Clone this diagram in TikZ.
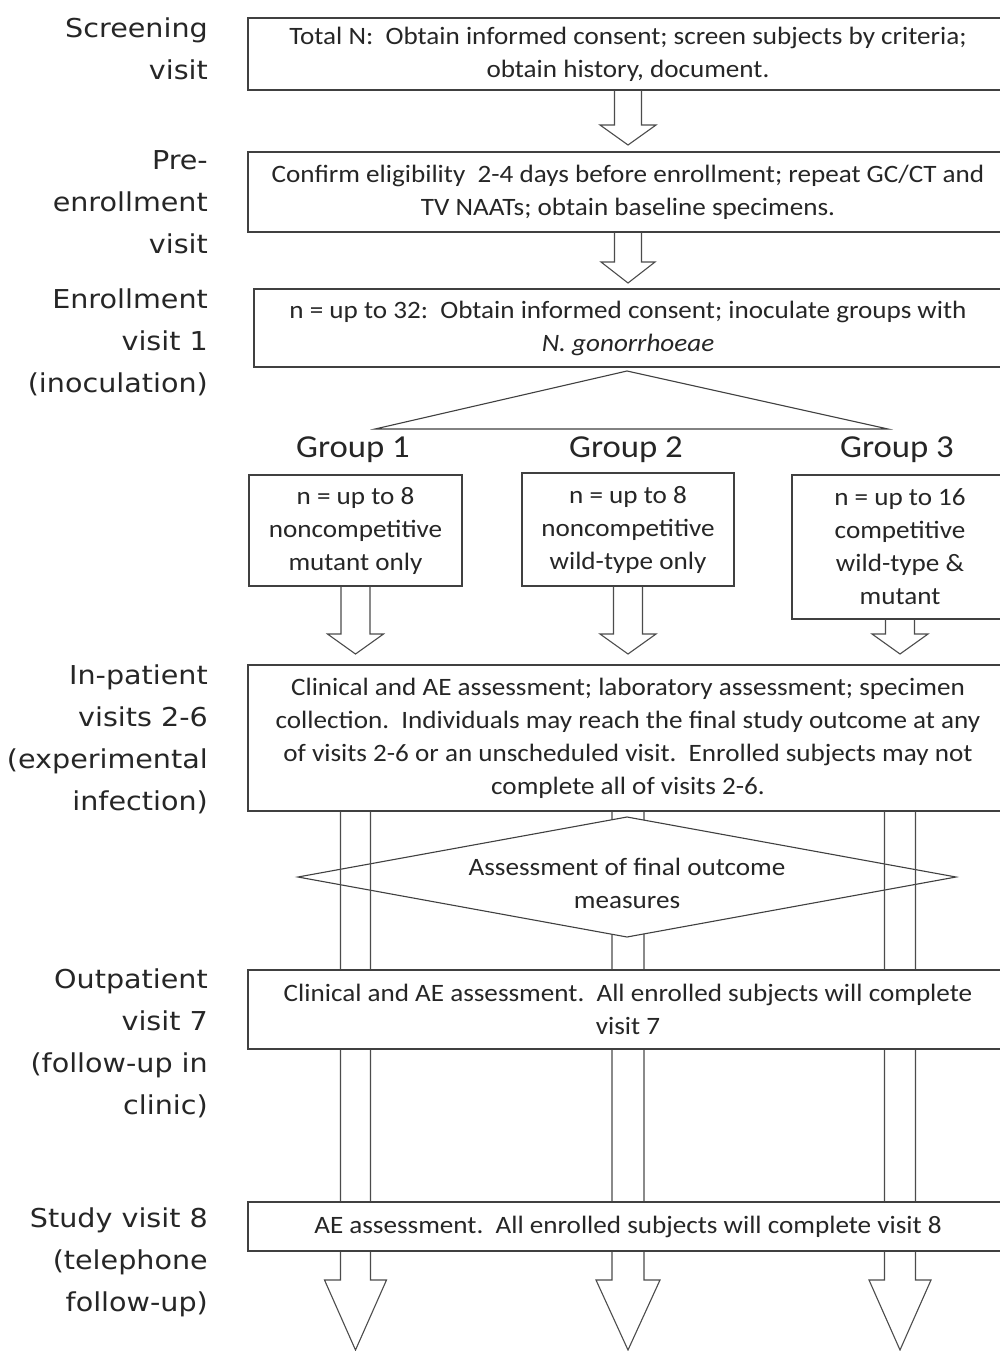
\documentclass[tikz,border=0pt]{standalone}
\usepackage{fontspec}
\setmainfont[FakeStretch=1.085]{Carlito}
\newfontfamily\visitfont[FakeStretch=1.1]{DejaVu Sans}
\usetikzlibrary{calc}

\tikzset{
	box/.style={draw=black!75, line width=1.3pt, fill=white, align=center, inner sep=0pt, text=black!85, font=\fontsize{25}{33}\selectfont},
	visitlabel/.style={anchor=east, align=right, inner sep=0pt, text=black!85, font=\visitfont\fontsize{26}{42}\selectfont},
	grouplabel/.style={inner sep=0pt, text=black!85, font=\fontsize{32}{40}\selectfont},
	hollow/.style={draw=black!70, line width=1.1pt},
}

% open block arrow: start, tip, shaft half width, head half width, head length
\newcommand{\hollowarrow}[5]{%
	\draw [hollow] let \p1=(#1), \p2=(#2) in
		(\x1-#3,\y1) -- (\x1-#3,\y2+#5) -- (\x1-#4,\y2+#5) -- (\x1,\y2)
		-- (\x1+#4,\y2+#5) -- (\x1+#3,\y2+#5) -- (\x1+#3,\y1);
}

\begin{document}
\begin{tikzpicture}[x=1pt,y=-1pt]

			\path [use as bounding box, fill=white] (0,0) rectangle (999,1351);

			% visit names on the left
			\node [visitlabel] (lscreen) at (208,49) {Screening\\visit};
			\node [visitlabel] (lpre) at (208,202) {Pre-\\enrollment\\visit};
			\node [visitlabel] (lenrol) at (208,342) {Enrollment\\visit 1\\(inoculation)};
			\node [visitlabel] (linpat) at (208,739) {In-patient\\visits 2-6\\(experimental\\infection)};
			\node [visitlabel] (loutpat) at (208,1043) {Outpatient\\visit 7\\(follow-up in\\clinic)};
			\node [visitlabel] (lstudy) at (208,1262) {Study visit 8\\(telephone\\follow-up)};

			% top of the flow
			\node [box, minimum width=760pt, minimum height=72pt] (screen) at (628,54)
				{Total N:\ \ Obtain informed consent; screen subjects by criteria;\\obtain history, document.};
			\node [box, minimum width=760pt, minimum height=80pt] (pre) at (628,192)
				{Confirm eligibility\ \ 2-4 days before enrollment; repeat GC/CT and\\TV NAATs; obtain baseline specimens.};
			\node [box, minimum width=748pt, minimum height=78pt] (enrol) at (628,328)
				{n = up to 32:\ \ Obtain informed consent; inoculate groups with\\\textit{N. gonorrhoeae}};

			\coordinate (tipscreen) at (screen.south |- 0,145);
			\coordinate (tippre) at (pre.south |- 0,283);
			\hollowarrow{screen.south}{tipscreen}{13.5pt}{28pt}{20pt}
			\hollowarrow{pre.south}{tippre}{13.5pt}{27pt}{21pt}

			% split into the groups
			\draw [hollow, draw=black!75] (375,429) -- (627,371) -- (888,429) -- cycle;

			\node [box, minimum width=213pt, minimum height=111pt] (g1) at (355.5,530.5)
				{n = up to 8\\noncompetitive\\mutant only};
			\node [box, minimum width=212pt, minimum height=113pt] (g2) at (628,529.5)
				{n = up to 8\\noncompetitive\\wild-type only};
			\node [box, minimum width=216pt, minimum height=144pt] (g3) at (900,547)
				{n = up to 16\\competitive\\wild-type \&\\mutant};

			\node [grouplabel] (name1) at (353,450) {Group 1};
			\node [grouplabel] (name2) at (626,450) {Group 2};
			\node [grouplabel] (name3) at (897,450) {Group 3};

			\foreach \g [count=\i] in {g1,g2,g3} {
				\coordinate (gtip\i) at (\g.south |- 0,654);
				\hollowarrow{\g.south}{gtip\i}{14.5pt}{28pt}{20pt}
			}

			\node [box, minimum width=760pt, minimum height=146pt] (inpat) at (628,738)
				{Clinical and AE assessment; laboratory assessment; specimen\\collection.\ \ Individuals may reach the final study outcome at any\\of visits 2-6 or an unscheduled visit.\ \ Enrolled\ subjects may not\\complete all of visits 2-6.};

			% long arrows down to the end
			\foreach \g [count=\i] in {g1,g2,g3} {
				\coordinate (from\i) at (\g.south |- inpat.south);
				\coordinate (end\i) at (\g.south |- 0,1350);
			}
			\hollowarrow{from2}{end2}{16pt}{32pt}{70pt}

			\draw [hollow, draw=black!75, fill=white] (298,877) -- (627,817) -- (956,877) -- (627,937) -- cycle;
			\node [inner sep=0pt, align=center, text=black!85, font=\fontsize{25}{33}\selectfont] (assess) at (627,883)
				{Assessment of final outcome\\measures};

			\hollowarrow{from1}{end1}{15pt}{31pt}{70pt}
			\hollowarrow{from3}{end3}{15.5pt}{31pt}{70pt}

			\node [box, minimum width=760pt, minimum height=79pt] (outpat) at (628,1009.5)
				{Clinical and AE assessment.\ \ All enrolled subjects will complete\\visit 7};
			\node [box, minimum width=760pt, minimum height=49pt] (study) at (628,1226.5)
				{AE assessment.\ \ All enrolled subjects will complete visit 8};

		\end{tikzpicture}
\end{document}
